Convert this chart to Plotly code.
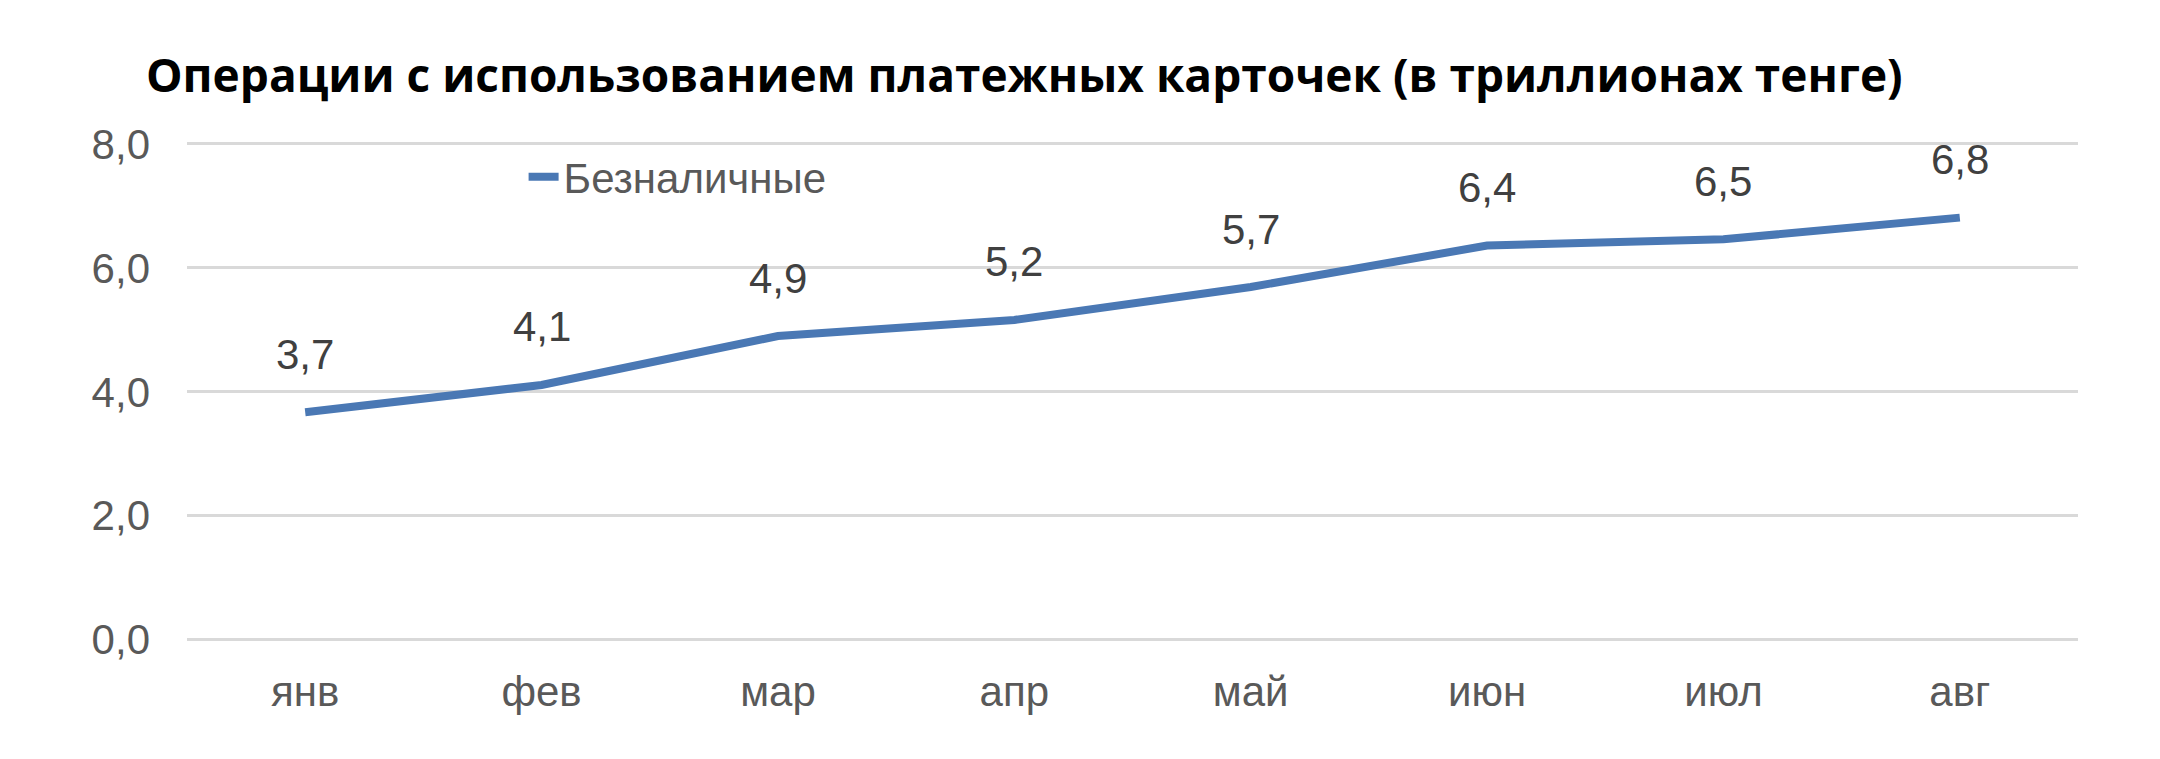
import plotly.graph_objects as go

months = ["янв", "фев", "мар", "апр", "май", "июн", "июл", "авг"]
cashless = [3.67, 4.11, 4.90, 5.16, 5.69, 6.36, 6.46, 6.81]
series_name = "Безналичные"
title = "Операции с использованием платежных карточек (в триллионах тенге)"

blue = "#4a78b4"
grey_text = "#595959"

fig = go.Figure()
fig.add_trace(go.Scatter(
    x=months, y=cashless, name=series_name, mode="lines",
    line=dict(color=blue, width=8), showlegend=True,
))

# value labels above the points
for m, v in zip(months, cashless):
    fig.add_annotation(
        x=m, y=v, text=f"{v:.1f}".replace(".", ","), showarrow=False,
        yshift=58, font=dict(size=42, color="#404040", family="Liberation Sans"),
    )

fig.update_layout(
    width=2160, height=759,
    margin=dict(l=179, r=90, t=134, b=126),
    paper_bgcolor="white", plot_bgcolor="white",
    separators=", ",
    title=dict(
        text=title, x=138 / 2160, xanchor="left", y=1 - 68 / 759, yanchor="middle",
        font=dict(family="Open Sans", size=46, color="black", weight="bold"),
    ),
    legend=dict(
        x=0.178, y=0.93, xanchor="left", yanchor="middle",
        font=dict(size=42, color=grey_text, family="Liberation Sans"),
        bgcolor="rgba(0,0,0,0)",
    ),
    font=dict(family="Liberation Sans", color=grey_text),
)
fig.update_xaxes(
    type="category", range=[-0.5, 7.5], showgrid=False, zeroline=False,
    showline=False, tickfont=dict(size=42, color=grey_text), ticklabelstandoff=22,
)
fig.update_yaxes(
    range=[-0.02, 8.03], tickvals=[0, 2, 4, 6, 8], tickformat=".1f",
    showgrid=True, gridcolor="#d9d9d9", gridwidth=3, zeroline=False, showline=False,
    tickfont=dict(size=42, color=grey_text), ticklabelstandoff=36,
)

fig.write_html("out.html")
